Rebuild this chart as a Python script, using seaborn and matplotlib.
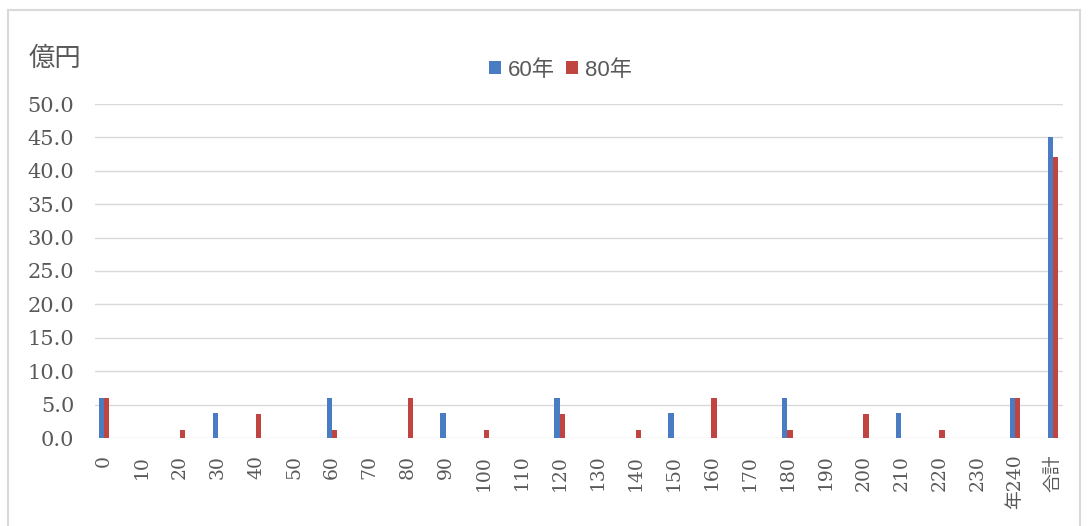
import pandas as pd
import matplotlib
matplotlib.use('Agg')
import matplotlib.pyplot as plt
from matplotlib.patches import Rectangle
from matplotlib.font_manager import FontProperties
import seaborn as sns

sns.set_theme(style='white')
plt.rcParams['font.family'] = ['DejaVu Serif', 'Noto Sans CJK JP']

# data
categories = [str(y) for y in range(0, 240, 10)] + ['年240', '合計']
values_60 = [6.0, 0, 0, 3.75, 0, 0, 6.0, 0, 0, 3.75, 0, 0, 6.0,
             0, 0, 3.75, 0, 0, 6.0, 0, 0, 3.75, 0, 0, 6.0, 45.0]
values_80 = [6.0, 0, 1.2, 0, 3.6, 0, 1.2, 0, 6.0, 0, 1.2, 0, 3.6,
             0, 1.2, 0, 6.0, 0, 1.2, 0, 3.6, 0, 1.2, 0, 6.0, 42.0]
series = ['60年', '80年']
colors = ['#4a7cc4', '#c0443f']

df = pd.DataFrame({
    'cat': categories * 2,
    'value': values_60 + values_80,
    'series': [series[0]] * len(categories) + [series[1]] * len(categories),
})

fig = plt.figure(figsize=(10.88, 5.26), dpi=100)
ax = fig.add_axes([95 / 1088, 1 - 438 / 526, (1063 - 95) / 1088, (438 - 104) / 526])

sns.barplot(data=df, x='cat', y='value', hue='series', order=categories,
            hue_order=series, palette=colors, width=0.28, linewidth=0,
            saturation=1, ax=ax)

ax.set_ylim(0, 50)
ax.set_yticks(range(0, 51, 5))
ax.set_yticklabels([f'{v:.1f}' for v in range(0, 51, 5)])
ax.set_xlim(-0.24, 25.26)
ax.set_xlabel('')
ax.set_ylabel('')
ax.yaxis.grid(True, color='#d9d9d9', linewidth=1)
ax.xaxis.grid(False)
ax.set_axisbelow(True)
for s in ax.spines.values():
    s.set_visible(False)
ax.tick_params(axis='y', length=0, pad=15, labelsize=15, labelcolor='#595959')
ax.tick_params(axis='x', length=0, pad=12, labelsize=13.5, labelcolor='#595959')
for lbl in ax.get_xticklabels():
    lbl.set_rotation(90)

# legend at top centre
leg_font = FontProperties(family=['Liberation Sans', 'Noto Sans CJK JP'], size=16)
ax.legend(loc='center', bbox_to_anchor=(0.515, 1 - 70 / 526), bbox_transform=fig.transFigure,
          ncol=2, frameon=False, prop=leg_font, handlelength=0.55, handleheight=0.55,
          handletextpad=0.3, columnspacing=0.5, labelcolor='#595959')

fig.text(29 / 1088, 1 - 58 / 526, '億円', fontsize=19, color='#595959',
         family=['Noto Sans CJK JP'], va='center', ha='left')

# chart frame
fig.patches.append(Rectangle((8 / 1088, -0.05), (1080 - 8) / 1088, 1.05 - 10 / 526,
                             transform=fig.transFigure, fill=False,
                             edgecolor='#d9d9d9', linewidth=1.5))

plt.savefig('out.png', dpi=100)
